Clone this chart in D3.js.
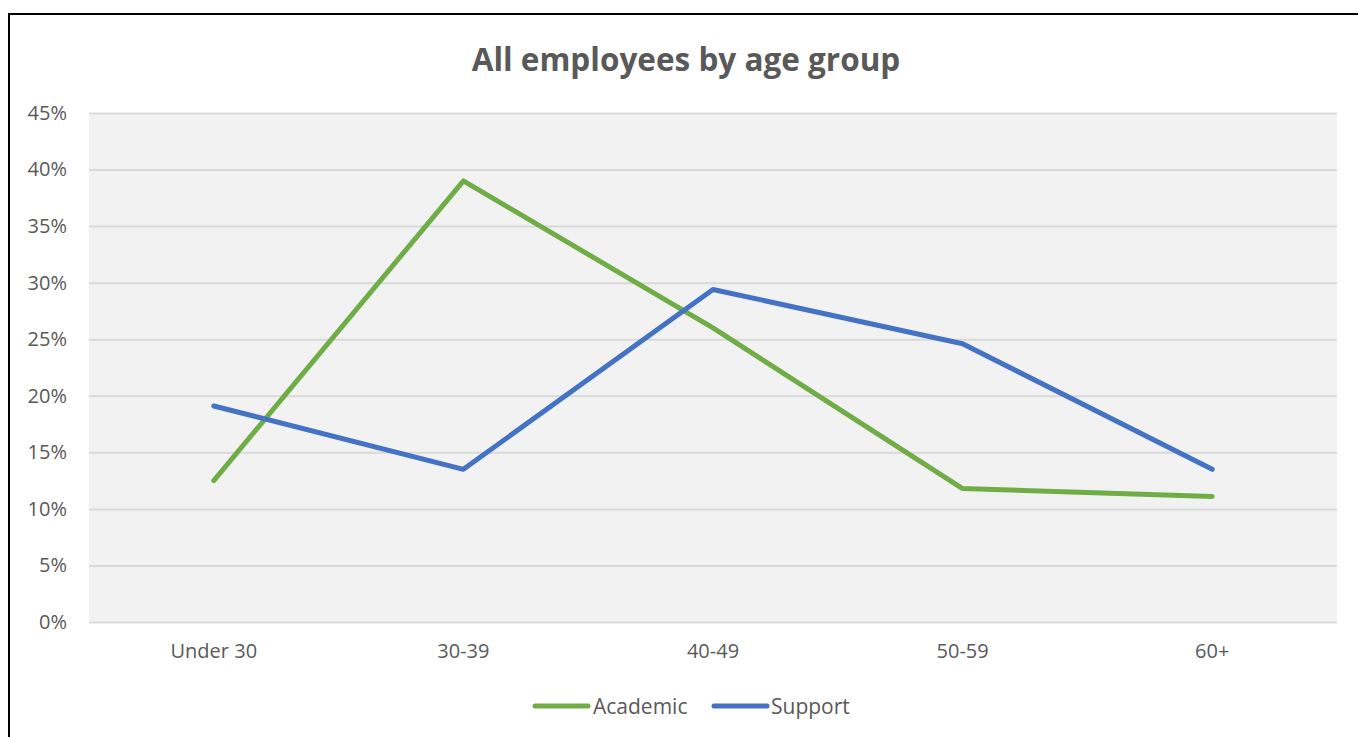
<!DOCTYPE html>
<html><head><meta charset="utf-8">
<script src="https://cdn.jsdelivr.net/npm/d3@7"></script>
<style>html,body{margin:0;padding:0;background:#fff;overflow:hidden}</style>
</head><body>
<svg id="c" width="1358" height="737"></svg>
<script>
const categories = ["Under 30", "30-39", "40-49", "50-59", "60+"];
const academic = [12.5, 39.0, 26.0, 11.8, 11.1];
const support = [19.1, 13.5, 29.4, 24.6, 13.5];
const yTicks = [0, 5, 10, 15, 20, 25, 30, 35, 40, 45];
const seriesNames = ["Academic", "Support"];
const seriesColors = ["#70AD47", "#4472C4"];

const svg = d3.select("#c");
const font = "'Open Sans', 'Noto Sans', sans-serif";
const pL = 89, pR = 1337, pT = 113, pB = 622;

svg.append("rect").attr("x", 9).attr("y", 14).attr("width", 1360).attr("height", 740)
  .attr("fill", "#fff").attr("stroke", "#000").attr("stroke-width", 2);

const x = d3.scaleBand().domain(categories).range([pL, pR]);
const y = d3.scaleLinear().domain([0, 45]).range([pB, pT]);

svg.append("rect").attr("x", pL).attr("y", pT).attr("width", pR - pL).attr("height", pB - pT).attr("fill", "#f2f2f2");

const yAxis = d3.axisLeft(y).tickValues(yTicks).tickFormat(d => d + "%").tickSize(-(pR - pL)).tickPadding(22);
const gy = svg.append("g").attr("transform", `translate(${pL},0)`).call(yAxis);
gy.select(".domain").remove();
gy.selectAll(".tick line").attr("stroke", "#d9d9d9").attr("stroke-width", 2);
gy.selectAll(".tick text").attr("fill", "#595959").style("font-family", font).style("font-size", "20px");

const xAxis = d3.axisBottom(x).tickSize(0).tickPadding(22);
const gx = svg.append("g").attr("transform", `translate(0,${pB})`).call(xAxis);
gx.select(".domain").remove();
gx.selectAll(".tick text").attr("fill", "#595959").style("font-family", font).style("font-size", "20px");

const line = d3.line().x((d, i) => x(categories[i]) + x.bandwidth() / 2).y(d => y(d));
[academic, support].forEach((s, k) => {
  svg.append("path").datum(s).attr("d", line).attr("fill", "none")
    .attr("stroke", seriesColors[k]).attr("stroke-width", 5)
    .attr("stroke-linecap", "round").attr("stroke-linejoin", "round");
});

svg.append("text").attr("x", 686).attr("y", 71).attr("text-anchor", "middle")
  .attr("fill", "#595959").style("font-family", font).style("font-size", "31.5px").style("font-weight", "bold")
  .text("All employees by age group");

const legendPos = [[535, 593], [714, 771]];
seriesNames.forEach((n, k) => {
  const [lx, tx] = legendPos[k];
  svg.append("line").attr("x1", lx).attr("x2", lx + 53).attr("y1", 706).attr("y2", 706)
    .attr("stroke", seriesColors[k]).attr("stroke-width", 5).attr("stroke-linecap", "round");
  svg.append("text").attr("x", tx).attr("y", 714).attr("fill", "#595959")
    .style("font-family", font).style("font-size", "21px").text(n);
});
</script>
</body></html>
